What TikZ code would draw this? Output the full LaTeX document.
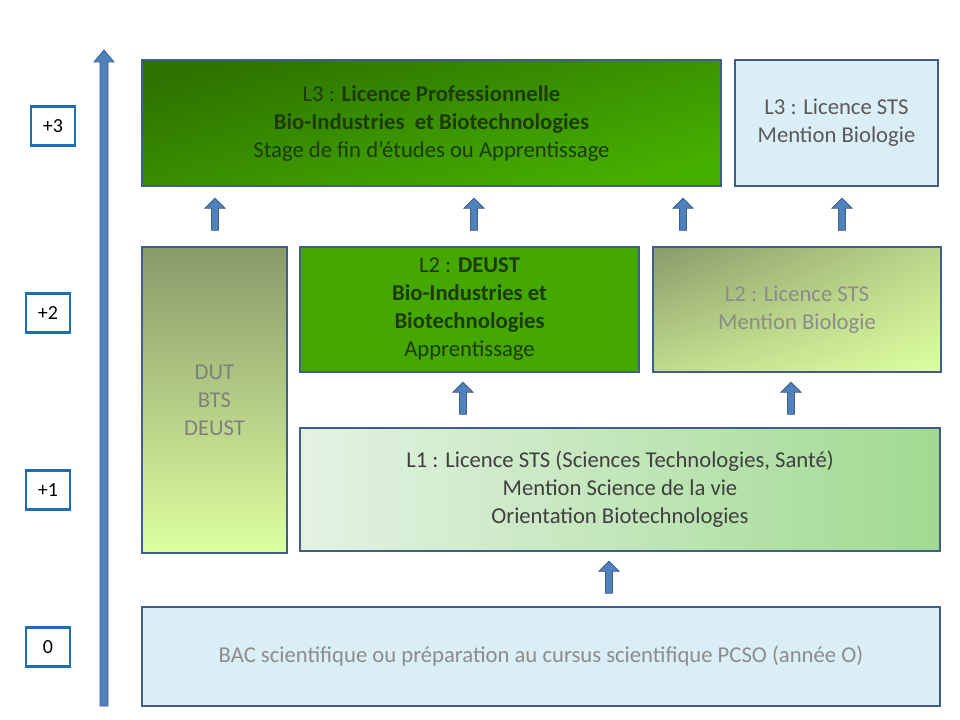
\documentclass[tikz,border=0pt]{standalone}
\usepackage{fontspec}
\setmainfont{Carlito}
\usetikzlibrary{shapes.arrows,shadings}
\definecolor{frame}{HTML}{3F5F8A}
\definecolor{arrblue}{HTML}{4F81BD}
\definecolor{lvlblue}{HTML}{1F6FB8}
\definecolor{paleblue}{HTML}{DCEEF5}
\definecolor{darkgreen}{HTML}{2E7300}
\definecolor{midgreen}{HTML}{46B000}
\definecolor{deustgreen}{HTML}{44A800}
\definecolor{olivetop}{HTML}{8A9A6A}
\definecolor{palelime}{HTML}{DDFFA0}
\definecolor{mintleft}{HTML}{E4F2E4}
\definecolor{mintright}{HTML}{A0DA90}
\definecolor{darktext}{HTML}{1E3A0A}
\tikzset{
  box/.style={draw=frame, line width=1.6pt, inner sep=0pt, align=center, font=\fontsize{17}{21}\selectfont},
  level/.style={draw=lvlblue, line width=2pt, fill=white, minimum width=33pt, minimum height=29pt, font=\fontsize{15}{17}\selectfont},
  uparrow/.style={single arrow, draw=frame, fill=arrblue, line width=0.6pt, rotate=90, minimum height=24pt, minimum width=15pt, single arrow head extend=4pt, inner sep=1.8pt}
}
\begin{document}
\begin{tikzpicture}[x=0.75pt,y=-0.75pt]
    \useasboundingbox (0,0) rectangle (960,720);
    % axis
    \draw[frame, fill=arrblue, line width=0.6pt] (100,706) -- (100,62) -- (94,62) -- (104,50) -- (114,62) -- (108,62) -- (108,706) -- cycle;
    \node[level] (lvl3) at (53,126) {+3};
    \node[level] (lvl2) at (48,313) {+2};
    \node[level] (lvl1) at (48,490) {+1};
    \node[level] (lvl0) at (48,647) {0};
% boxes
\shade[top color=darkgreen, bottom color=midgreen, shading angle=15] (142,60) rectangle (721,186);
\node[box, minimum width=434pt, minimum height=94.5pt, text=darktext] (l3pro) at (431.5,123) {L3 : \textbf{Licence Professionnelle}\\ \textbf{Bio-Industries\ \ et Biotechnologies}\\ Stage de fin d’études ou Apprentissage};
\node[box, fill=paleblue, minimum width=152pt, minimum height=94.5pt, text=black!65] (l3sts) at (836.5,123) {L3 : Licence STS\\ Mention Biologie};
\shade[top color=olivetop, bottom color=palelime] (142,247) rectangle (287,553);
\node[box, minimum width=108.75pt, minimum height=229.5pt, text=black!50] (dut) at (214.5,400) {DUT\\ BTS\\ DEUST};
\node[box, fill=deustgreen, minimum width=254pt, minimum height=94pt, text=darktext] (l2deust) at (469.5,309.5) {L2 : \textbf{DEUST}\\ \textbf{Bio-Industries et}\\ \textbf{Biotechnologies}\\ Apprentissage};
\shade[upper left=olivetop, lower right=palelime, upper right=olivetop!40!palelime, lower left=olivetop!35!palelime] (653,247) rectangle (941,372);
\node[box, minimum width=216pt, minimum height=94pt, text=black!45] (l2sts) at (797,309.5) {L2 : Licence STS\\ Mention Biologie};
\shade[left color=mintleft, right color=mintright] (300,428) rectangle (940,551);
\node[box, minimum width=480pt, minimum height=92pt, text=black!75] (l1) at (620,489.5) {L1 : Licence STS (Sciences Technologies, Santé)\\ Mention Science de la vie\\ Orientation Biotechnologies};
\node[box, fill=paleblue, minimum width=598.5pt, minimum height=74pt, text=black!45] (bac) at (541,656.5) {BAC scientifique ou préparation au cursus scientifique PCSO (année O)};
% arrows between levels
\node[uparrow] (a1) at (215,216) {};
\node[uparrow] (a2) at (474,216) {};
\node[uparrow] (a3) at (683,216) {};
\node[uparrow] (a4) at (842,216) {};
\node[uparrow] (a5) at (463,400) {};
\node[uparrow] (a6) at (791,400) {};
\node[uparrow] (a7) at (609,579) {};
\end{tikzpicture}
\end{document}
